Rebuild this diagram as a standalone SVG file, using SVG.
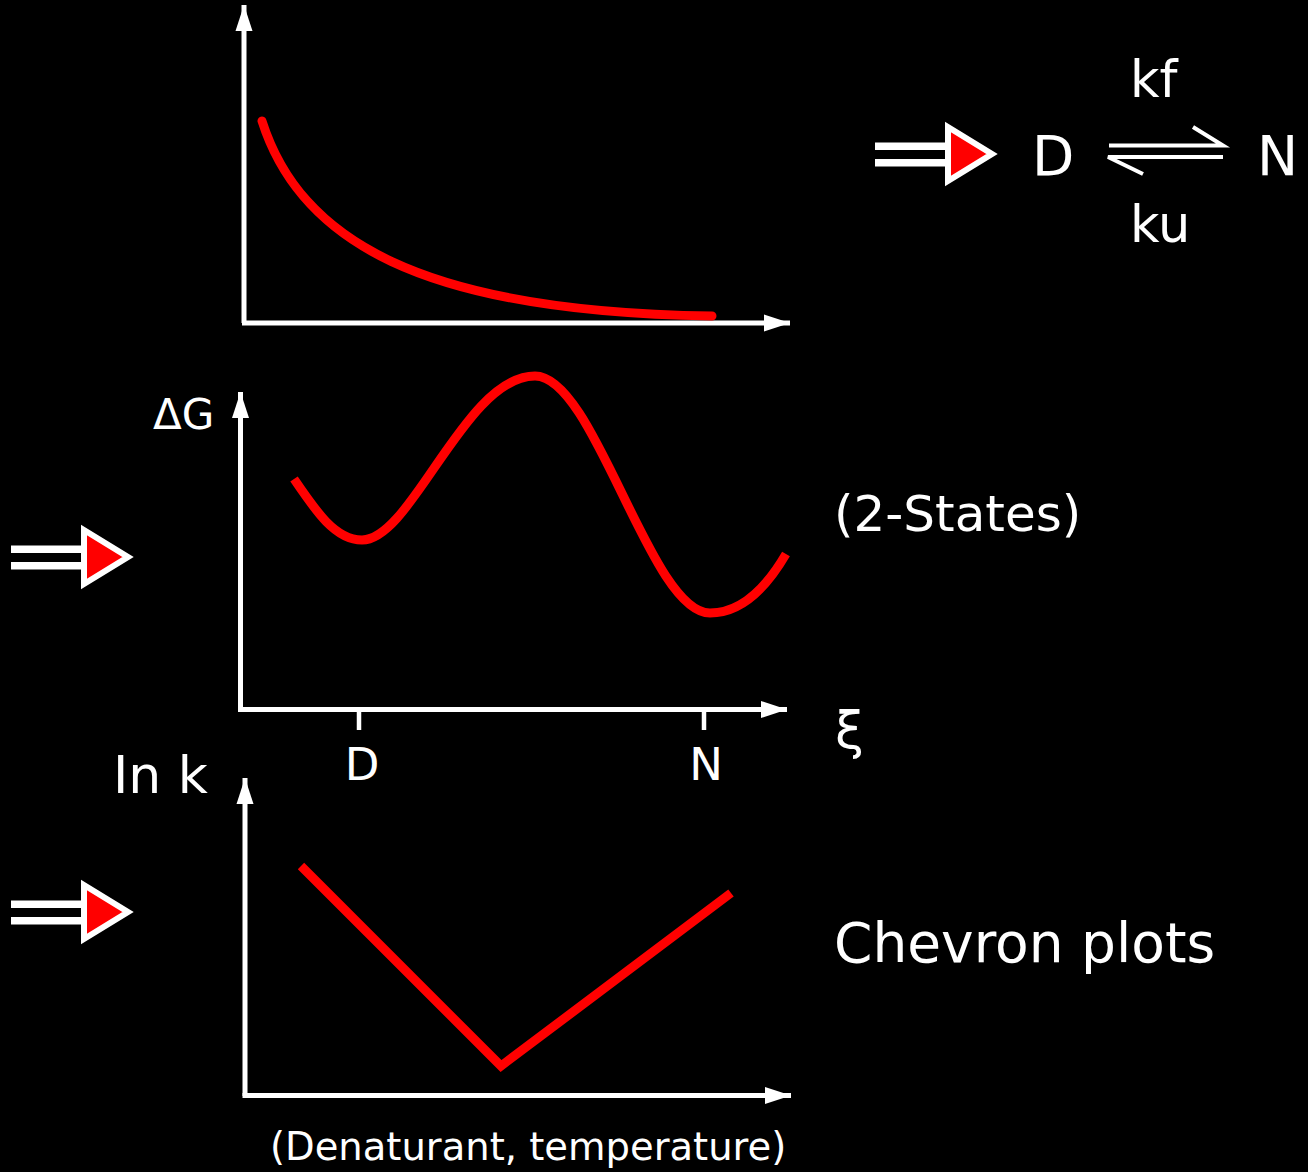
<svg xmlns="http://www.w3.org/2000/svg" width="1308" height="1172" viewBox="0 0 1308 1172">
  <style>
    .t { fill: #ffffff; font-family: "DejaVu Sans", "Liberation Sans", sans-serif; }
    .ax { stroke: #ffffff; stroke-width: 5; fill: none; marker-end: url(#ah); }
    .curve { stroke: #ff0000; stroke-width: 9; fill: none; }
    .eq { stroke: #ffffff; stroke-width: 4; fill: none; }
  </style>
  <defs>
    <marker id="ah" markerUnits="userSpaceOnUse" markerWidth="30" markerHeight="20" viewBox="-28 -10 30 20" refX="0" refY="0" orient="auto" overflow="visible">
      <path d="M0,0 L-26,-8.5 L-26,8.5 Z" fill="#ffffff"/>
    </marker>
    <g id="bigArrow">
      <rect x="0" y="-11.5" width="74" height="7.5" fill="#ffffff"/>
      <rect x="0" y="5" width="74" height="7.5" fill="#ffffff"/>
      <polygon points="73,-27 73,27 117,0" fill="#ff0000" stroke="#ffffff" stroke-width="6"/>
    </g>
  </defs>
  <rect x="0" y="0" width="1308" height="1172" fill="#000000"/>

  <g id="connectors">
    <!-- top plot axes -->
    <path class="ax" d="M244,323 L244,5"/>
    <path class="ax" d="M242,323 L790,323"/>
    <!-- middle plot axes -->
    <path class="ax" d="M240.5,710 L240.5,392"/>
    <path class="ax" d="M238,709.5 L787,709.5"/>
    <line x1="359" y1="709" x2="359" y2="730" stroke="#ffffff" stroke-width="4.5"/>
    <line x1="704" y1="709" x2="704" y2="730" stroke="#ffffff" stroke-width="4.5"/>
    <!-- bottom plot axes -->
    <path class="ax" d="M245,1096 L245,778"/>
    <path class="ax" d="M242.5,1095.5 L791,1095.5"/>
    <!-- equilibrium harpoons -->
    <path class="eq" d="M1109,145.5 L1223,145.5 L1193,127"/>
    <path class="eq" d="M1223,157 L1108,157 L1143,174"/>
  </g>

  <g id="curve-decay">
    <path class="curve" stroke-linecap="round" d="M262,121 C300,240 420,312 712,316"/>
  </g>
  <g id="curve-energy">
    <path class="curve" d="M294,479 C315,510 335,540 362,540 C412,540 465,376 535,376 C595,376 650,613 710,613 C740,613 765,590 786,554"/>
  </g>
  <g id="curve-chevron">
    <path class="curve" stroke-linejoin="miter" d="M301,866 L501,1066 L731,893"/>
  </g>

  <g id="arrow-top"><use href="#bigArrow" transform="translate(875,154)"/></g>
  <g id="arrow-middle"><use href="#bigArrow" transform="translate(11,557)"/></g>
  <g id="arrow-bottom"><use href="#bigArrow" transform="translate(11,912)"/></g>

  <g id="reaction">
    <text class="t" x="1130" y="97" font-size="51">kf</text>
    <text class="t" x="1032" y="175" font-size="55">D</text>
    <text class="t" x="1257" y="175" font-size="55">N</text>
    <text class="t" x="1130" y="242" font-size="51">ku</text>
  </g>
  <g id="labels">
    <text class="t" x="153" y="429" font-size="42">ΔG</text>
    <text class="t" x="834" y="531" font-size="50">(2-States)</text>
    <text class="t" x="835" y="748" font-size="52">ξ</text>
    <text class="t" x="362" y="780" font-size="45" text-anchor="middle">D</text>
    <text class="t" x="706" y="780" font-size="45" text-anchor="middle">N</text>
    <text class="t" x="113" y="793" font-size="52">In k</text>
    <text class="t" x="834" y="962" font-size="55">Chevron plots</text>
    <text class="t" x="270" y="1160" font-size="38.5">(Denaturant, temperature)</text>
  </g>
</svg>
